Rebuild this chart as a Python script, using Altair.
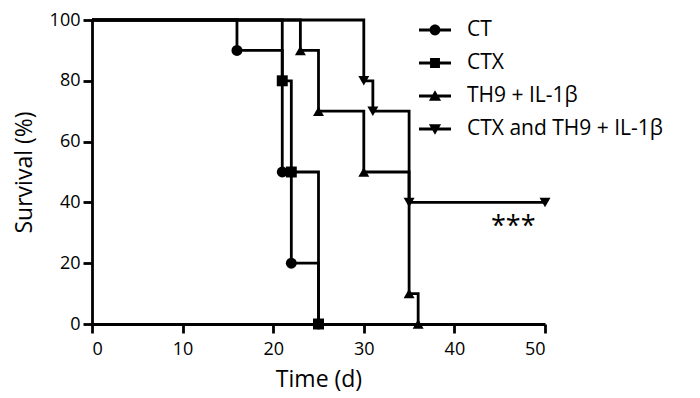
import altair as alt
import pandas as pd

series = ["CT", "CTX", "TH9 + IL-1β", "CTX and TH9 + IL-1β"]

ct_t = [0, 16, 21, 22, 25]
ct_s = [100, 90, 50, 20, 0]
ctx_t = [0, 21, 22, 25]
ctx_s = [100, 80, 50, 0]
th9_t = [0, 23, 25, 30, 35, 36]
th9_s = [100, 90, 70, 50, 10, 0]
comb_t = [0, 30, 31, 35, 50]
comb_s = [100, 80, 70, 40, 40]

annot_x = [46.5]
annot_y = [32]
annot_text = ["***"]

rows = []
for name, ts, ss in zip(series, [ct_t, ctx_t, th9_t, comb_t], [ct_s, ctx_s, th9_s, comb_s]):
    for i, (t, s) in enumerate(zip(ts, ss)):
        rows.append({"series": name, "t": t, "s": s, "marker": i > 0})
df = pd.DataFrame(rows)

FONT = "Open Sans"

x_enc = alt.X("t:Q", title="Time (d)",
              scale=alt.Scale(domain=[0, 50], nice=False, zero=True),
              axis=alt.Axis(values=[0, 10, 20, 30, 40, 50], labelPadding=7, titlePadding=10))
y_enc = alt.Y("s:Q", title="Survival (%)",
              scale=alt.Scale(domain=[0, 100], nice=False),
              axis=alt.Axis(values=[0, 20, 40, 60, 80, 100], labelPadding=3, titlePadding=13))

lines = alt.Chart(df).mark_line(interpolate="step-after", color="black", strokeWidth=2.8).encode(
    x=x_enc, y=y_enc, detail="series:N"
)

std_shapes = ["circle", "square", "triangle-up", "triangle-down"]
points = alt.Chart(df).transform_filter("datum.marker").mark_point(
    filled=True, color="black", opacity=1, size=120
).encode(
    x="t:Q", y="s:Q",
    shape=alt.Shape("series:N", scale=alt.Scale(domain=series, range=std_shapes), legend=None),
)

# legend glyphs: a filled bar (the line) plus the marker, all wound clockwise
BAR = "M-1,-0.09H1V0.09H-1Z"
legend_paths = [
    BAR + "M-0.34,0A0.34,0.34,0,1,1,0.34,0A0.34,0.34,0,1,1,-0.34,0Z",
    BAR + "M-0.31,-0.31H0.31V0.31H-0.31Z",
    BAR + "M0,-0.36L0.38,0.3H-0.38Z",
    BAR + "M0,0.36L-0.38,-0.3H0.38Z",
]
legend_layer = alt.Chart(df).transform_filter("false").mark_point(
    filled=True, color="black", opacity=1
).encode(
    x="t:Q", y="s:Q",
    shape=alt.Shape("series:N", scale=alt.Scale(domain=series, range=legend_paths),
                    legend=alt.Legend(title=None, orient="none", legendX=327, legendY=-6,
                                      symbolSize=1024, symbolFillColor="black",
                                      symbolStrokeWidth=0,
                                      symbolOpacity=1, labelFontSize=21, labelFont=FONT,
                                      labelColor="black", rowPadding=7, labelOffset=16,
                                      labelLimit=500, symbolOffset=0)),
)

annot_df = pd.DataFrame({"x": annot_x, "y": annot_y, "text": annot_text})
annot = alt.Chart(annot_df).mark_text(fontSize=27, font=FONT, color="black").encode(
    x="x:Q", y="y:Q", text="text:N"
)

chart = alt.layer(lines, points, legend_layer, annot).resolve_scale(shape="independent").properties(
    width=453, height=304, padding={"left": 5, "top": 3, "right": 5, "bottom": 5}
).configure_view(stroke=None).configure_axis(
    grid=False, domainColor="black", domainWidth=2.8, tickColor="black", tickWidth=2.8,
    tickSize=9, labelFont=FONT, labelFontSize=18, labelColor="black", titleFont=FONT,
    titleFontSize=23, titleFontWeight="normal", titleColor="black"
)

chart.save("out.html", embed_options={"renderer": "svg", "actions": False})
